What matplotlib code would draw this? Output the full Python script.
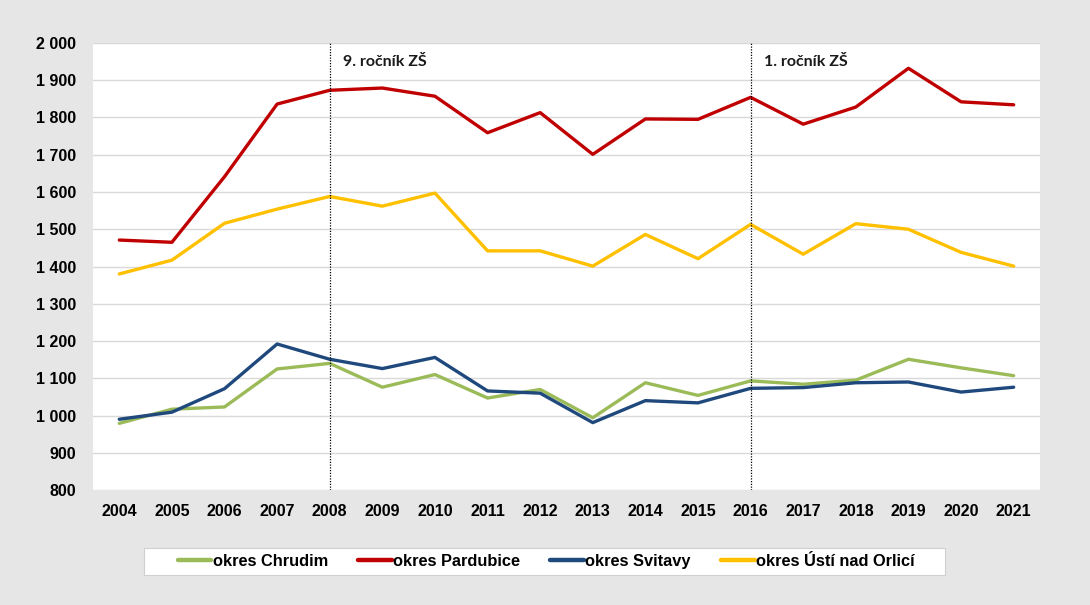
import matplotlib.pyplot as plt
from matplotlib.patches import Rectangle
from matplotlib.ticker import FuncFormatter

years = list(range(2004, 2022))

chrudim = [979, 1017, 1023, 1125, 1140, 1076, 1110, 1047, 1070,
           994, 1088, 1054, 1093, 1084, 1095, 1151, 1128, 1107]
pardubice = [1471, 1465, 1641, 1836, 1873, 1879, 1857, 1759, 1813,
             1701, 1796, 1795, 1854, 1782, 1828, 1932, 1842, 1834]
svitavy = [990, 1009, 1072, 1192, 1151, 1126, 1156, 1066, 1060,
           981, 1040, 1034, 1073, 1075, 1088, 1090, 1063, 1076]
usti = [1380, 1417, 1516, 1554, 1588, 1562, 1597, 1442, 1442,
        1401, 1486, 1421, 1513, 1433, 1515, 1500, 1438, 1401]

series = [
    ("okres Chrudim", chrudim, "#9BBB59"),
    ("okres Pardubice", pardubice, "#C00000"),
    ("okres Svitavy", svitavy, "#1F497D"),
    ("okres Ústí nad Orlicí", usti, "#FFC000"),
]

markers = [(2008, "9. ročník ZŠ"), (2016, "1. ročník ZŠ")]

plt.rcParams['font.family'] = ['Liberation Sans', 'DejaVu Sans']

fig = plt.figure(figsize=(10.9, 6.05), dpi=100, facecolor="#E6E6E6")
ax = fig.add_axes([0.0853, 0.19, 0.8688, 0.739])
ax.set_facecolor("white")

x = list(range(len(years)))
for name, vals, col in series:
    ax.plot(x, vals, color=col, lw=2.4, label=name, solid_capstyle="round")

for yr, txt in markers:
    i = years.index(yr)
    ax.axvline(i, color="black", lw=0.9, ls=(0, (1, 1.2)), zorder=3)
    ax.text(i + 0.25, 1948, txt, fontsize=11.5, fontweight="bold",
            family=["Lato", "DejaVu Sans"], va="center", ha="left", color="#1a1a1a")

ax.set_xlim(-0.5, len(years) - 0.5)
ax.set_ylim(800, 2000)
ax.set_yticks(range(800, 2001, 100))
ax.yaxis.set_major_formatter(FuncFormatter(lambda v, p: f"{int(v):,}".replace(",", " ")))
ax.set_xticks(x)
ax.set_xticklabels([str(y) for y in years])
ax.grid(axis="y", color="#D9D9D9", lw=1)
ax.set_axisbelow(True)
for s in ax.spines.values():
    s.set_visible(False)
ax.tick_params(length=0, labelsize=11.5, colors="black")
ax.tick_params(axis="y", pad=12)
ax.tick_params(axis="x", pad=10)
for lab in ax.get_xticklabels() + ax.get_yticklabels():
    lab.set_fontweight("bold")

# legend box drawn separately so the side padding can be wider than the vertical one
fig.patches.append(Rectangle((144 / 1090, 1 - 575 / 605), 801 / 1090, 27 / 605,
                             transform=fig.transFigure, facecolor="white",
                             edgecolor="#D0D0D0", lw=0.8, zorder=0))
leg = fig.legend(loc="center", bbox_to_anchor=(0.501, 0.072), ncol=4,
                 frameon=False, prop={"size": 11.8, "weight": "bold"},
                 handlelength=2.05, handletextpad=0.08, columnspacing=1.85)
for line in leg.get_lines():
    line.set_linewidth(3.2)

fig.savefig("out.png", dpi=100, facecolor=fig.get_facecolor())
